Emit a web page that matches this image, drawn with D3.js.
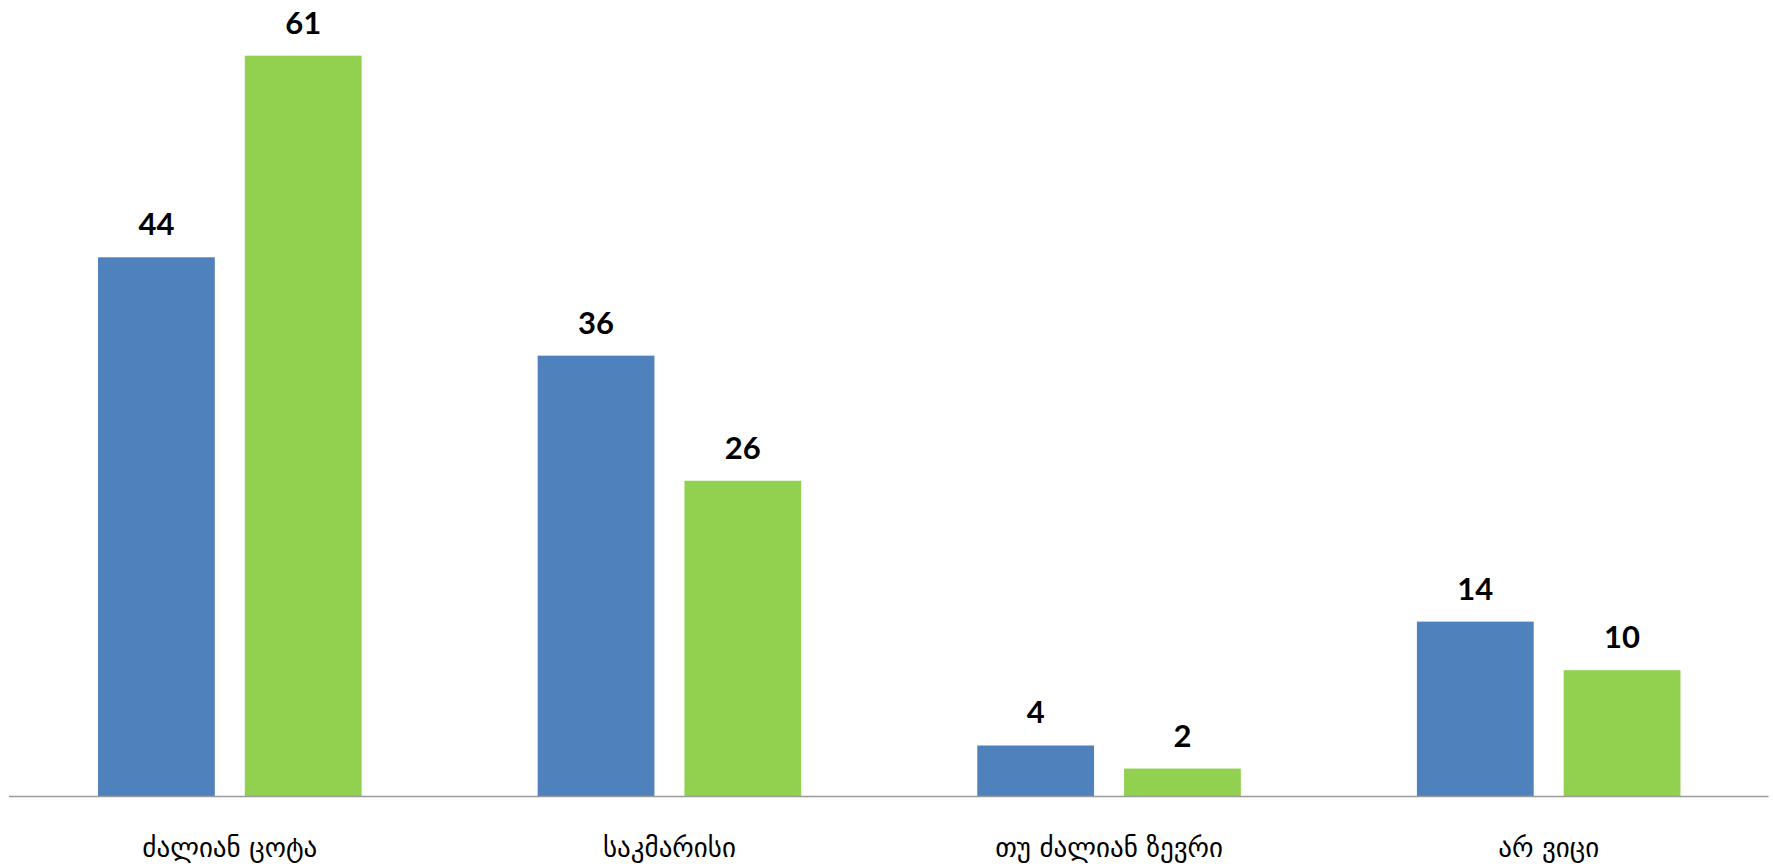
<!DOCTYPE html>
<html>
<head>
<meta charset="utf-8">
<script src="https://cdn.jsdelivr.net/npm/d3@7"></script>
<style>
  html, body { margin: 0; padding: 0; background: #ffffff; }
  svg { display: block; }
</style>
</head>
<body>
<svg id="chart" width="1773" height="868"></svg>
<script>
// ---- data ----
const categories = ["ძალიან ცოტა", "საკმარისი", "თუ ძალიან ზევრი", "არ ვიცი"];
const seriesNames = ["series1", "series2"];
const series1Values = [44.4, 36.3, 4.2, 14.4];
const series2Values = [61, 26, 2.3, 10.4];
const valueLabels1 = ["44", "36", "4", "14"];
const valueLabels2 = ["61", "26", "2", "10"];
const seriesColors = ["#4F81BD", "#92D050"];

// ---- layout ----
const W = 1773, H = 868;
const plotLeft = 10, plotRight = 1768.5;
const baseline = 796.5, topY = 55.7;

const svg = d3.select("#chart");

const x0 = d3.scaleBand()
  .domain(categories)
  .range([plotLeft, plotRight])
  .paddingInner(0.4005)
  .paddingOuter(0.20025);

const x1 = d3.scaleBand()
  .domain(seriesNames)
  .range([0, x0.bandwidth()])
  .paddingInner(0.2044)
  .paddingOuter(0);

const y = d3.scaleLinear().domain([0, 61]).range([baseline, topY]);

const rows = categories.map((c, i) => ({
  cat: c,
  vals: [
    { s: seriesNames[0], v: series1Values[i], label: valueLabels1[i], color: seriesColors[0] },
    { s: seriesNames[1], v: series2Values[i], label: valueLabels2[i], color: seriesColors[1] }
  ]
}));

const groups = svg.append("g").selectAll("g")
  .data(rows).join("g")
  .attr("transform", d => `translate(${x0(d.cat)},0)`);

groups.selectAll("rect")
  .data(d => d.vals).join("rect")
  .attr("x", d => x1(d.s))
  .attr("y", d => y(d.v))
  .attr("width", x1.bandwidth())
  .attr("height", d => y(0) - y(d.v))
  .attr("fill", d => d.color);

groups.selectAll("text.val")
  .data(d => d.vals).join("text")
  .attr("class", "val")
  .attr("x", d => x1(d.s) + x1.bandwidth() / 2)
  .attr("y", d => y(d.v) - 22)
  .attr("text-anchor", "middle")
  .attr("font-family", "Lato, 'Open Sans', sans-serif")
  .attr("font-weight", 700)
  .attr("font-size", 31)
  .attr("fill", "#000")
  .text(d => d.label);

// x axis (baseline + category labels)
const xAxis = d3.axisBottom(x0).tickSize(0).tickPadding(0);
const axisG = svg.append("g")
  .attr("transform", `translate(0,${baseline})`)
  .call(xAxis);
axisG.select(".domain")
  .attr("d", `M${plotLeft - 1},0H${plotRight}`)
  .attr("stroke", "#9a9a9a")
  .attr("stroke-width", 1.6);
axisG.selectAll(".tick text")
  .attr("y", 60)
  .attr("dy", 0)
  .attr("font-family", "'DejaVu Sans', sans-serif")
  .attr("font-size", 27)
  .attr("fill", "#000");
</script>
</body>
</html>
